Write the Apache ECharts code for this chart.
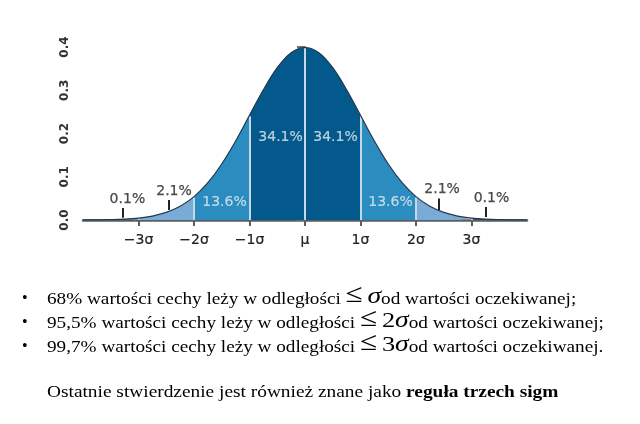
<!DOCTYPE html>
<html>
<head>
<meta charset="utf-8">
<script src="https://cdn.jsdelivr.net/npm/echarts@6/dist/echarts.min.js"></script>
<style>
html,body{margin:0;padding:0;background:#fff;}
#c{width:640px;height:424px;}
</style>
</head>
<body>
<div id="c"></div>
<script>
// ---- data ----
const xs = [-4,-3.75,-3.5,-3.25,-3,-2.75,-2.5,-2.25,-2,-1.75,-1.5,-1.25,-1,-0.75,-0.5,-0.25,0,
            0.25,0.5,0.75,1,1.25,1.5,1.75,2,2.25,2.5,2.75,3,3.25,3.5,3.75,4];
const ys = [0.0001,0.0004,0.0009,0.0020,0.0044,0.0091,0.0175,0.0317,0.0540,0.0863,0.1295,0.1826,0.2420,0.3011,0.3521,0.3867,0.3989,
            0.3867,0.3521,0.3011,0.2420,0.1826,0.1295,0.0863,0.0540,0.0317,0.0175,0.0091,0.0044,0.0020,0.0009,0.0004,0.0001];
const tickValues = [-3,-2,-1,0,1,2,3];
const tickLabels = ['\u22123\u03c3','\u22122\u03c3','\u22121\u03c3','\u03bc','1\u03c3','2\u03c3','3\u03c3'];
const yTicks = [0,0.1,0.2,0.3,0.4];
const regionEdges = [-4,-3,-2,-1,1,2,3,4];
const regionColors = ['#4d5358','#78acd6','#2b8cbf','#04598c','#2b8cbf','#78acd6','#4d5358'];
const pctInside = ['34.1%','34.1%','13.6%','13.6%'];
const pctOutside = ['2.1%','2.1%','0.1%','0.1%'];

// annotation placement (data coordinates)
const insidePos = [[-0.44,0.19],[0.55,0.19],[-1.45,0.04],[1.54,0.04]];
const outsidePos = [[-2.36,0.066],[2.47,0.07],[-3.2,0.047],[3.36,0.049]];
const pointerPos = [[-2.45,0.046,0.023],[2.41,0.05,0.023],[-3.29,0.028,0.005],[3.25,0.03,0.007]];

const pts = xs.map((x,i)=>[x,ys[i]]);
const series = [];
for (let r=0;r<regionEdges.length-1;r++){
  const a=regionEdges[r], b=regionEdges[r+1];
  series.push({
    type:'line', smooth:0.35, symbol:'none', silent:true, z:2,
    data: pts.filter(p=>p[0]>=a-1e-9 && p[0]<=b+1e-9),
    lineStyle:{width:0}, areaStyle:{color:regionColors[r], opacity:1}
  });
}
// white separators
const sepData = [];
for (const b of tickValues){
  const i = xs.indexOf(b);
  sepData.push([{coord:[b,0]},{coord:[b,ys[i]-0.002]}]);
}
series.push({
  type:'line', data:[], z:4, silent:true,
  markLine:{symbol:['none','none'], silent:true, label:{show:false},
    lineStyle:{color:'#c6d7e6', width:2, type:'solid'}, data:sepData}
});
// curve outline
series.push({
  type:'line', smooth:0.35, symbol:'none', silent:true, z:5, data:pts,
  lineStyle:{color:'#22384c', width:1.2}
});
const lblBase = {fontFamily:'DejaVu Sans', fontSize:14};
// percentage labels inside
series.push({
  type:'scatter', symbolSize:0, z:6, silent:true,
  data: insidePos.map((p,i)=>({value:p, name:pctInside[i]})),
  label:Object.assign({show:true, position:'inside', formatter:'{b}', color:'#e3ebf3', textBorderColor:'#e3ebf3', textBorderWidth:0.15}, lblBase)
});
// percentage labels outside
series.push({
  type:'scatter', symbolSize:0, z:6, silent:true,
  data: outsidePos.map((p,i)=>({value:p, name:pctOutside[i]})),
  label:Object.assign({show:true, position:'inside', formatter:'{b}', color:'#222', textBorderColor:'#222', textBorderWidth:0.25}, lblBase),
  markLine:{symbol:['none','none'], silent:true, label:{show:false},
    lineStyle:{color:'#222', width:2, type:'solid'},
    data: pointerPos.map(p=>[{coord:[p[0],p[1]]},{coord:[p[0],p[2]]}])}
});

const serif = '"Liberation Serif","Times New Roman",serif';
const rich = {
  t:{fontFamily:serif, fontSize:16, color:'#000', verticalAlign:'bottom', lineHeight:16},
  m:{fontFamily:serif, fontSize:26, color:'#000', verticalAlign:'bottom', lineHeight:26},
  s:{fontFamily:serif, fontSize:23, fontStyle:'italic', color:'#000', verticalAlign:'bottom', lineHeight:23},
  n:{fontFamily:serif, fontSize:22, color:'#000', verticalAlign:'bottom', lineHeight:22},
  b:{fontFamily:serif, fontSize:16, fontWeight:'bold', color:'#000', verticalAlign:'bottom', lineHeight:16}
};
const lines = [
  '{t|68% warto\u015bci cechy le\u017cy w odleg\u0142o\u015bci }{m|\u2264}{t| }{s|\u03c3}{t|od warto\u015bci oczekiwanej;}',
  '{t|95,5% warto\u015bci cechy le\u017cy w odleg\u0142o\u015bci }{m|\u2264}{t| }{n|2}{s|\u03c3}{t|od warto\u015bci oczekiwanej;}',
  '{t|99,7% warto\u015bci cechy le\u017cy w odleg\u0142o\u015bci }{m|\u2264}{t| }{n|3}{s|\u03c3}{t|od warto\u015bci oczekiwanej.}'
];
const SX = 1.2;
const graphic = [];
lines.forEach((l,i)=>{
  graphic.push({type:'text', x:22, y:291+i*24, style:{text:'\u2022', font:'16px '+serif, fill:'#000'}});
  graphic.push({type:'text', x:47, y:282+i*24, scaleX:SX, style:{text:l, rich:rich}});
});
graphic.push({type:'text', x:47, y:385, scaleX:1.21, style:{text:'{t|Ostatnie stwierdzenie jest r\u00f3wnie\u017c znane jako }{b|regu\u0142a trzech sigm}', rich:rich}});

const chart = echarts.init(document.getElementById('c'));
chart.setOption({
  animation:false,
  grid:{left:83, top:47, width:444, height:173},
  xAxis:{type:'value', min:-4, max:4, interval:1,
    splitLine:{show:false},
    axisLine:{lineStyle:{color:'#5a5f63', width:2.5}},
    axisTick:{customValues:tickValues, length:6, lineStyle:{color:'#5a5f63', width:2}},
    axisLabel:{customValues:tickValues, margin:13, color:'#222', fontFamily:'DejaVu Sans', fontSize:14,
      textBorderColor:'#222', textBorderWidth:0.2,
      formatter:v=>tickLabels[tickValues.indexOf(v)] || ''}
  },
  yAxis:{type:'value', min:0, max:0.4, interval:0.1,
    splitLine:{show:false},
    axisLine:{show:true, lineStyle:{color:'#6b6f72', width:2}},
    axisTick:{show:true, length:8, lineStyle:{color:'#6b6f72', width:2}},
    axisLabel:{rotate:90, margin:12, color:'#333', fontFamily:'DejaVu Sans', fontSize:12, fontWeight:'bold',
      formatter:v=>yTicks.includes(+v.toFixed(1)) ? v.toFixed(1) : ''}
  },
  series:series,
  graphic:graphic
});
</script>
</body>
</html>
